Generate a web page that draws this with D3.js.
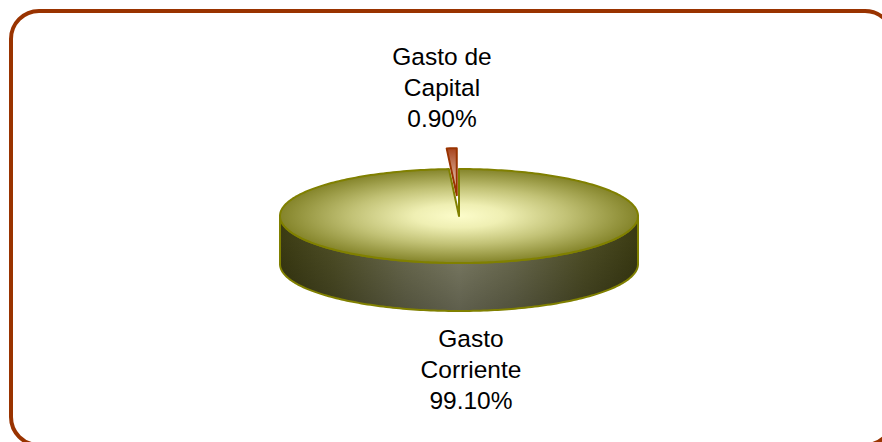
<!DOCTYPE html>
<html>
<head>
<meta charset="utf-8">
<script src="https://cdn.jsdelivr.net/npm/d3@7"></script>
<style>
  body { margin: 0; background: #fff; }
  svg { display: block; }
</style>
</head>
<body>
<div id="wrapper"></div>
<script>
// data
const categories = ["Gasto Corriente", "Gasto de Capital"]
const values = [99.10, 0.90]
const labelLines = [["Gasto", "Corriente", "99.10%"], ["Gasto de", "Capital", "0.90%"]]

const width = 882
const height = 442

const pie3d = {
    cx: 459,
    cy: 216,
    rx: 179,
    ry: 47,
    depth: 48,
    explode: [0, 0.44]
}

const svg = d3.select('#wrapper')
    .append('svg')
    .attr('width', width)
    .attr('height', height)

const defs = svg.append('defs')

const topGrad = defs.append('radialGradient').attr('id', 'topGrad')
    .attr('cx', 0.5).attr('cy', 0.5).attr('r', 0.5)
;[[0, '#fcfcca'], [0.25, '#efefb3'], [0.6, '#c2c276'], [1, '#84842a']].forEach(s => {
    topGrad.append('stop').attr('offset', s[0]).attr('stop-color', s[1])
})

const sideGrad = defs.append('linearGradient').attr('id', 'sideGrad')
    .attr('x1', 0).attr('x2', 1).attr('y1', 0).attr('y2', 0)
;[[0, '#3a3a12'], [0.15, '#4e4e26'], [0.35, '#6c6c50'], [0.5, '#7e7e66'], [0.65, '#6c6c50'], [0.85, '#4e4e26'], [1, '#3a3a12']].forEach(s => {
    sideGrad.append('stop').attr('offset', s[0]).attr('stop-color', s[1])
})

const shadeGrad = defs.append('linearGradient').attr('id', 'shadeGrad')
    .attr('x1', 0).attr('x2', 0).attr('y1', 0).attr('y2', 1)
shadeGrad.append('stop').attr('offset', 0.25).attr('stop-color', '#000').attr('stop-opacity', 0)
shadeGrad.append('stop').attr('offset', 1).attr('stop-color', '#000').attr('stop-opacity', 0.25)

const redGrad = defs.append('linearGradient').attr('id', 'redGrad')
    .attr('x1', 0).attr('x2', 0).attr('y1', 0).attr('y2', 1)
redGrad.append('stop').attr('offset', 0).attr('stop-color', '#a8441e')
redGrad.append('stop').attr('offset', 1).attr('stop-color', '#f6e8dc')

// frame
svg.append('rect')
    .attr('x', 11).attr('y', 11)
    .attr('width', 882).attr('height', 434)
    .attr('rx', 28).attr('ry', 28)
    .attr('fill', 'none')
    .attr('stroke', '#993300')
    .attr('stroke-width', 4)

const pie = d3.pie().sort(null).startAngle(0).endAngle(2 * Math.PI)
const arcs = pie(values)

// angle 0 at 12 o'clock, clockwise; project onto the tilted ellipse
const proj = (a, ox, oy, dz) => [
    pie3d.cx + ox + pie3d.rx * Math.sin(a),
    pie3d.cy + oy - pie3d.ry * Math.cos(a) + (dz || 0)
]

const arcPoints = (a0, a1, ox, oy, dz) => {
    const n = Math.max(2, Math.ceil(Math.abs(a1 - a0) / 0.02))
    return d3.range(n + 1).map(i => proj(a0 + (a1 - a0) * i / n, ox, oy, dz))
}

const line = d3.line()

const offsetOf = (d, i) => {
    const mid = (d.startAngle + d.endAngle) / 2
    const e = pie3d.explode[i]
    return [e * pie3d.rx * Math.sin(mid), -e * pie3d.ry * Math.cos(mid)]
}

const topPath = (d, i) => {
    const [ox, oy] = offsetOf(d, i)
    const c = [pie3d.cx + ox, pie3d.cy + oy]
    return line([c, ...arcPoints(d.startAngle, d.endAngle, ox, oy), c]) + 'Z'
}

const sidePath = (d, i) => {
    const [ox, oy] = offsetOf(d, i)
    const a0 = Math.max(d.startAngle, Math.PI / 2)
    const a1 = Math.min(d.endAngle, 3 * Math.PI / 2)
    if (a1 <= a0) return null
    const upper = arcPoints(a0, a1, ox, oy)
    const lower = arcPoints(a1, a0, ox, oy, pie3d.depth)
    return line([...upper, ...lower]) + 'Z'
}

const fills = ['url(#topGrad)', 'url(#redGrad)']
const strokes = ['#808000', '#993300']

// exploded slice first, it sits behind
const order = [1, 0]
const g = svg.append('g')

order.forEach(i => {
    const d = arcs[i]
    const sp = sidePath(d, i)
    if (sp) {
        g.append('path').attr('d', sp).attr('fill', 'url(#sideGrad)')
        g.append('path').attr('d', sp).attr('fill', 'url(#shadeGrad)')
            .attr('stroke', strokes[i]).attr('stroke-width', 2).attr('stroke-linejoin', 'round')
    }
    g.append('path')
        .attr('d', topPath(d, i))
        .attr('fill', fills[i])
        .attr('stroke', strokes[i])
        .attr('stroke-width', 2)
        .attr('stroke-linejoin', 'round')
})

// labels
const labelAt = [[471, 347], [442, 65]]
const lineGap = 31

labelLines.forEach((lines, i) => {
    const t = svg.append('text')
        .attr('x', labelAt[i][0])
        .attr('y', labelAt[i][1])
        .attr('text-anchor', 'middle')
        .style('font-family', 'Arial, "Liberation Sans", sans-serif')
        .style('font-size', '24.5px')
        .attr('fill', '#000')
    lines.forEach((s, k) => {
        t.append('tspan')
            .attr('x', labelAt[i][0])
            .attr('dy', k === 0 ? 0 : lineGap)
            .text(s)
    })
})
</script>
</body>
</html>
